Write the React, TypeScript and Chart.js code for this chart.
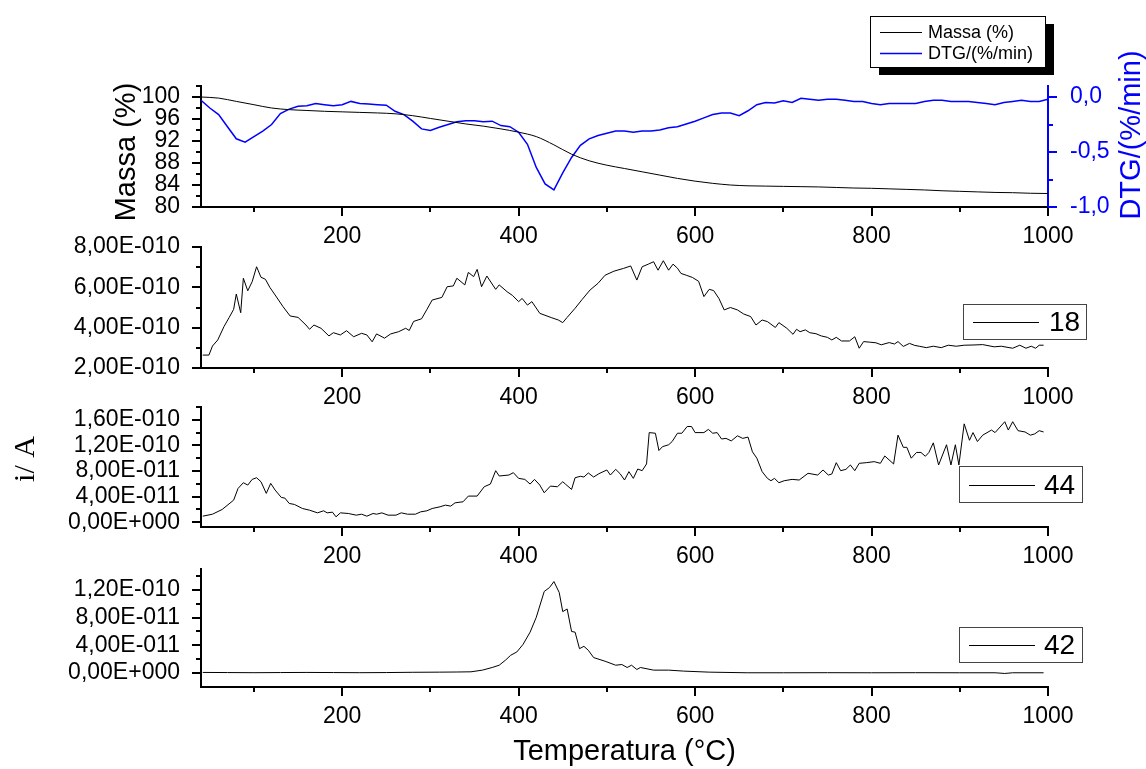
import React, { useEffect, useRef } from "react";
import { Chart, registerables } from "chart.js";

Chart.register(...registerables);

const SANS = "'Liberation Sans', Arial, Helvetica, sans-serif";
const SERIF = "'Liberation Serif', 'Times New Roman', serif";
const BLUE = "#0000ff";
const TICK_FONT = 23;
const TITLE_FONT = 29;

// ---------- shared temperature axis ----------
const tempMin = 40;
const tempMax = 1000;
const tempMajorTicks = [200, 400, 600, 800, 1000];
const tempMinorTicks = [100, 300, 500, 700, 900];

// ---------- panel 1 : TG / DTG ----------
const massaTemp = [40, 60, 80, 100, 120, 140, 160, 180, 200, 220, 240, 260, 280, 300, 320, 340, 360, 380, 400, 420, 440, 460, 480, 500, 520, 540, 560, 580, 600, 620, 640, 660, 680, 700, 720, 740, 760, 780, 800, 820, 840, 860, 880, 900, 920, 940, 960, 980, 1000];
const massaValues = [100.0, 99.8, 99.2, 98.6, 98.0, 97.7, 97.55, 97.4, 97.3, 97.2, 97.1, 96.95, 96.6, 96.1, 95.6, 95.1, 94.7, 94.2, 93.6, 92.8, 91.3, 89.6, 88.4, 87.6, 87.0, 86.4, 85.8, 85.2, 84.7, 84.3, 84.0, 83.85, 83.8, 83.75, 83.7, 83.65, 83.55, 83.45, 83.4, 83.3, 83.2, 83.1, 82.95, 82.85, 82.75, 82.65, 82.6, 82.5, 82.45];

const dtgTemp = [40, 50, 60, 70, 80, 90, 100, 110, 120, 130, 140, 150, 160, 170, 180, 190, 200, 210, 220, 230, 240, 250, 260, 270, 280, 290, 300, 310, 320, 330, 340, 350, 360, 370, 380, 390, 400, 410, 420, 430, 440, 450, 460, 470, 480, 490, 500, 510, 520, 530, 540, 550, 560, 570, 580, 590, 600, 610, 620, 630, 640, 650, 660, 670, 680, 690, 700, 710, 720, 730, 740, 750, 760, 770, 780, 790, 800, 810, 820, 830, 840, 850, 860, 870, 880, 890, 900, 910, 920, 930, 940, 950, 960, 970, 980, 990, 1000];
const dtgValues = [-0.03, -0.10, -0.16, -0.27, -0.38, -0.41, -0.36, -0.31, -0.25, -0.15, -0.11, -0.085, -0.08, -0.06, -0.07, -0.08, -0.07, -0.04, -0.06, -0.064, -0.07, -0.075, -0.13, -0.16, -0.22, -0.29, -0.305, -0.275, -0.25, -0.225, -0.215, -0.215, -0.225, -0.22, -0.26, -0.27, -0.32, -0.43, -0.64, -0.79, -0.845, -0.69, -0.55, -0.44, -0.38, -0.35, -0.33, -0.31, -0.31, -0.32, -0.31, -0.31, -0.30, -0.28, -0.27, -0.245, -0.22, -0.19, -0.16, -0.145, -0.145, -0.17, -0.125, -0.07, -0.05, -0.055, -0.035, -0.05, -0.012, -0.02, -0.03, -0.02, -0.02, -0.03, -0.04, -0.04, -0.06, -0.07, -0.06, -0.06, -0.06, -0.06, -0.04, -0.03, -0.03, -0.04, -0.04, -0.04, -0.05, -0.06, -0.07, -0.05, -0.04, -0.03, -0.04, -0.04, -0.02];

const massaTicks = [80, 84, 88, 92, 96, 100];
const massaTickLabels = ["80", "84", "88", "92", "96", "100"];
const massaMinorTicks = [82, 86, 90, 94, 98, 102];
const dtgTicks = [-1, -0.5, 0];
const dtgTickLabels = ["-1,0", "-0,5", "0,0"];
const dtgMinorTicks = [-0.75, -0.25];

// ---------- panel 2 : m/z 18 (values in 1E-10 A) ----------
const ms18Temp = [42, 49, 53, 59, 66, 72, 77, 80, 85, 88, 93, 98, 103, 108, 113, 118, 124, 133, 141, 150, 159, 163, 168, 176, 185, 190, 198, 205, 213, 222, 228, 234, 239, 248, 255, 264, 272, 276, 281, 290, 296, 302, 313, 319, 326, 330, 339, 343, 349, 353, 358, 364, 374, 378, 387, 393, 400, 404, 410, 415, 424, 437, 445, 450, 455, 464, 472, 481, 490, 498, 508, 519, 527, 534, 540, 547, 553, 558, 564, 570, 575, 580, 584, 590, 597, 604, 610, 616, 621, 627, 633, 640, 648, 655, 663, 669, 676, 682, 691, 695, 704, 711, 715, 719, 725, 730, 737, 743, 750, 755, 760, 766, 775, 781, 786, 791, 798, 805, 811, 820, 826, 830, 836, 843, 849, 854, 862, 870, 879, 887, 896, 905, 915, 926, 939, 947, 960, 968, 975, 981, 986, 990, 995];
const ms18Values = [2.64, 2.64, 3.09, 3.39, 4.05, 4.51, 4.91, 5.67, 4.74, 6.45, 5.83, 6.28, 7.02, 6.50, 6.40, 6.0, 5.62, 5.04, 4.58, 4.51, 4.13, 3.92, 4.13, 3.97, 3.59, 3.75, 3.64, 3.85, 3.55, 3.72, 3.64, 3.30, 3.69, 3.48, 3.69, 3.80, 3.97, 3.86, 4.31, 4.44, 4.9, 5.37, 5.50, 6.03, 6.07, 6.45, 6.12, 6.74, 6.53, 6.89, 6.03, 6.56, 5.90, 6.12, 5.78, 5.6, 5.29, 5.45, 5.12, 5.29, 4.71, 4.50, 4.38, 4.25, 4.51, 4.96, 5.4, 5.87, 6.2, 6.6, 6.8, 6.94, 7.06, 6.36, 7.02, 7.15, 7.27, 6.85, 7.32, 6.85, 7.15, 6.95, 6.69, 6.6, 6.49, 6.3, 5.54, 5.90, 5.84, 5.45, 4.88, 5.0, 4.88, 4.68, 4.55, 4.13, 4.38, 4.30, 4.01, 4.25, 3.97, 3.67, 3.92, 3.80, 3.89, 3.75, 3.7, 3.59, 3.52, 3.39, 3.52, 3.34, 3.34, 3.55, 2.98, 3.31, 3.28, 3.25, 3.15, 3.26, 3.19, 3.31, 3.07, 3.22, 3.12, 3.08, 3.01, 3.08, 3.01, 3.13, 3.08, 3.13, 3.14, 3.16, 3.05, 3.08, 2.98, 3.13, 2.98, 3.08, 2.98, 3.13, 3.13];
const ms18Unit = 1e-10;
const ms18Ticks = [2e-10, 4e-10, 6e-10, 8e-10];
const ms18TickLabels = ["2,00E-010", "4,00E-010", "6,00E-010", "8,00E-010"];
const ms18MinorTicks = [3e-10, 5e-10, 7e-10];

// ---------- panel 3 : m/z 44 (values in 1E-11 A) ----------
const ms44Temp = [42, 53, 64, 77, 82, 88, 93, 98, 103, 108, 114, 119, 124, 131, 135, 140, 146, 155, 163, 172, 179, 183, 189, 193, 198, 207, 216, 222, 228, 235, 239, 245, 252, 261, 267, 274, 283, 289, 296, 302, 311, 317, 323, 328, 337, 343, 353, 361, 368, 374, 378, 389, 394, 400, 407, 413, 418, 424, 429, 436, 444, 450, 453, 460, 464, 470, 474, 479, 485, 491, 500, 504, 510, 515, 520, 525, 530, 535, 540, 545, 548, 555, 559, 563, 570, 574, 580, 585, 591, 596, 600, 610, 615, 620, 625, 630, 635, 641, 648, 654, 660, 665, 670, 676, 682, 686, 690, 695, 701, 710, 718, 728, 739, 745, 751, 755, 760, 765, 771, 776, 781, 786, 794, 803, 810, 815, 825, 830, 836, 840, 845, 851, 856, 861, 865, 870, 876, 885, 890, 895, 899, 905, 911, 915, 920, 926, 936, 940, 951, 955, 960, 966, 974, 980, 985, 990, 995];
const ms44Values = [0.94, 1.25, 1.99, 3.45, 5.28, 6.17, 5.80, 6.69, 6.95, 6.32, 4.50, 6.07, 5.02, 3.87, 3.77, 2.93, 2.77, 2.14, 1.88, 1.46, 1.78, 1.46, 1.57, 0.84, 1.46, 1.36, 1.10, 1.25, 0.94, 1.36, 1.25, 1.46, 1.10, 1.10, 1.46, 1.25, 1.25, 1.62, 1.78, 2.14, 2.41, 2.67, 2.51, 3.03, 3.19, 4.08, 4.08, 5.54, 5.96, 8.05, 7.22, 7.37, 7.74, 6.85, 6.69, 5.96, 6.69, 5.80, 4.6, 5.64, 5.54, 6.32, 5.96, 5.12, 6.95, 7.17, 7.06, 7.69, 7.06, 7.58, 8.16, 7.37, 8.26, 7.58, 6.59, 7.90, 6.85, 8.31, 8.05, 9.10, 14.0, 13.9, 11.2, 11.8, 12.1, 12.6, 13.9, 13.9, 14.95, 14.95, 14.0, 14.0, 14.5, 13.9, 14.0, 13.0, 13.1, 12.7, 13.5, 13.1, 13.3, 11.0, 10.0, 7.9, 6.85, 6.48, 6.85, 6.17, 6.48, 6.69, 6.59, 7.64, 7.37, 8.16, 7.37, 7.53, 9.3, 8.05, 8.26, 8.94, 8.05, 9.2, 9.3, 9.46, 9.2, 10.35, 9.1, 13.6, 11.7, 11.7, 10.0, 10.9, 10.9, 10.3, 10.9, 12.4, 8.94, 12.1, 8.94, 12.1, 8.94, 15.37, 12.8, 14.0, 12.6, 13.6, 14.4, 14.0, 15.7, 14.4, 15.7, 14.3, 14.1, 13.6, 13.8, 14.3, 14.1];
const ms44Unit = 1e-11;
const ms44Ticks = [0, 4e-11, 8e-11, 1.2e-10, 1.6e-10];
const ms44TickLabels = ["0,00E+000", "4,00E-011", "8,00E-011", "1,20E-010", "1,60E-010"];
const ms44MinorTicks = [2e-11, 6e-11, 1e-10, 1.4e-10, 1.8e-10];

// ---------- panel 4 : m/z 42 (values in 1E-11 A) ----------
const ms42Temp = [42, 70, 100, 130, 160, 190, 220, 250, 280, 310, 330, 346, 359, 370, 378, 385, 391, 398, 405, 413, 420, 429, 435, 440, 446, 450, 455, 460, 464, 469, 474, 479, 485, 498, 510, 517, 523, 528, 534, 538, 553, 570, 587, 616, 659, 700, 750, 800, 850, 900, 940, 951, 960, 995];
const ms42Values = [0.10, 0.08, 0.06, 0.08, 0.10, 0.08, 0.06, 0.08, 0.12, 0.14, 0.16, 0.19, 0.43, 0.81, 1.14, 1.86, 2.57, 3.05, 4.14, 5.9, 8.04, 11.76, 12.33, 13.19, 11.62, 8.86, 9.24, 6.0, 5.9, 3.52, 3.86, 3.29, 2.24, 1.71, 1.14, 1.24, 0.81, 1.14, 0.52, 0.81, 0.43, 0.43, 0.29, 0.14, 0.05, 0.05, 0.06, 0.05, 0.06, 0.05, 0.05, -0.05, 0.05, 0.05];
const ms42Unit = 1e-11;
const ms42Ticks = [0, 4e-11, 8e-11, 1.2e-10];
const ms42TickLabels = ["0,00E+000", "4,00E-011", "8,00E-011", "1,20E-010"];
const ms42MinorTicks = [2e-11, 6e-11, 1e-10, 1.4e-10];

// ---------- helpers ----------
function toPoints(xs: number[], ys: number[], unit = 1) {
  return xs.map((x, i) => ({ x, y: ys[i] * unit }));
}

function tempScale(height: number, withTitle: boolean) {
  return {
    type: "linear",
    position: "bottom",
    min: tempMin,
    max: tempMax,
    afterBuildTicks: (s: any) => {
      s.ticks = tempMajorTicks.map((v) => ({ value: v }));
    },
    afterFit: (s: any) => {
      s.height = height;
      s.paddingLeft = 0;
      s.paddingRight = 0;
    },
    grid: { display: false, drawTicks: false },
    border: { display: true, color: "#000", width: 2 },
    ticks: {
      color: "#000",
      padding: 16,
      maxRotation: 0,
      autoSkip: false,
      font: { family: SANS, size: TICK_FONT },
      callback: (v: any) => String(v),
    },
    title: {
      display: withTitle,
      text: "Temperatura (°C)",
      color: "#000",
      font: { family: SANS, size: TITLE_FONT },
      padding: 0,
    },
  };
}

function valueScale(position: string, min: number, max: number, ticks: number[], labels: string[], width: number, color: string, padding: number) {
  return {
    type: "linear",
    position,
    min,
    max,
    afterBuildTicks: (s: any) => {
      s.ticks = ticks.map((v) => ({ value: v }));
    },
    afterFit: (s: any) => {
      s.width = width;
      s.paddingTop = 0;
      s.paddingBottom = 0;
    },
    grid: { display: false, drawTicks: false },
    border: { display: true, color, width: 2 },
    ticks: {
      color,
      padding,
      autoSkip: false,
      font: { family: SANS, size: TICK_FONT },
      callback: (_v: any, i: number) => labels[i],
    },
  };
}

function axisTicksPlugin(specs: any[]) {
  return {
    id: "axisTicks",
    afterDraw(chart: any) {
      const { ctx, chartArea } = chart;
      ctx.save();
      ctx.lineWidth = 2;
      for (const sp of specs) {
        const scale = chart.scales[sp.axis];
        ctx.strokeStyle = sp.color;
        const mark = (v: number, len: number) => {
          const p = Math.round(scale.getPixelForValue(v));
          ctx.beginPath();
          if (sp.side === "bottom") {
            ctx.moveTo(p, chartArea.bottom);
            ctx.lineTo(p, chartArea.bottom + len);
          } else if (sp.side === "left") {
            ctx.moveTo(chartArea.left, p);
            ctx.lineTo(chartArea.left - len, p);
          } else {
            ctx.moveTo(chartArea.right, p);
            ctx.lineTo(chartArea.right + len, p);
          }
          ctx.stroke();
        };
        sp.major.forEach((v: number) => mark(v, 9));
        sp.minor.forEach((v: number) => mark(v, 5));
      }
      ctx.restore();
    },
  };
}

function textPlugin(items: any[], offsetY: number) {
  return {
    id: "extraText",
    afterDraw(chart: any) {
      const ctx = chart.ctx;
      for (const it of items) {
        ctx.save();
        ctx.translate(it.x, it.y - offsetY);
        if (it.rotate) ctx.rotate(it.rotate);
        ctx.font = `${it.size}px ${it.family}`;
        ctx.fillStyle = it.color;
        ctx.textAlign = "center";
        ctx.textBaseline = "middle";
        ctx.fillText(it.text, 0, 0);
        ctx.restore();
      }
    },
  };
}

function legendPlugin(spec: any, offsetY: number) {
  return {
    id: "boxLegend",
    afterDraw(chart: any) {
      const ctx = chart.ctx;
      const y0 = spec.y - offsetY;
      ctx.save();
      if (spec.shadow) {
        ctx.fillStyle = "#000";
        ctx.fillRect(spec.x + 9, y0 + 8, spec.w, spec.h);
      }
      ctx.fillStyle = "#fff";
      ctx.fillRect(spec.x, y0, spec.w, spec.h);
      ctx.strokeStyle = spec.border;
      ctx.lineWidth = 1;
      ctx.strokeRect(spec.x + 0.5, y0 + 0.5, spec.w, spec.h);
      ctx.font = `${spec.size}px ${SANS}`;
      ctx.textBaseline = "middle";
      ctx.textAlign = "left";
      for (const r of spec.rows) {
        const ds = chart.data.datasets[r.dataset];
        const yy = Math.round(r.y - offsetY) + 0.5;
        ctx.strokeStyle = r.color;
        ctx.lineWidth = r.width;
        ctx.beginPath();
        ctx.moveTo(spec.lineX1, yy);
        ctx.lineTo(spec.lineX2, yy);
        ctx.stroke();
        ctx.fillStyle = "#000";
        ctx.fillText(ds.label, spec.textX, r.y - offsetY + 1);
      }
      ctx.restore();
    },
  };
}

const baseOptions = {
  responsive: false,
  animation: false,
  events: [],
  plugins: { legend: { display: false }, tooltip: { enabled: false } },
};

function msChart(canvas: HTMLCanvasElement, p: any) {
  return new Chart(canvas, {
    type: "line",
    data: {
      datasets: [
        {
          label: p.label,
          data: toPoints(p.temp, p.values, p.unit),
          borderColor: "#000",
          borderWidth: 1,
          pointRadius: 0,
          tension: 0,
        },
      ],
    },
    options: {
      ...baseOptions,
      layout: { padding: { top: p.padTop, left: 0, right: 98, bottom: 0 } },
      scales: {
        x: tempScale(p.xHeight, p.xTitle),
        y: valueScale("left", p.min, p.max, p.ticks, p.tickLabels, 201, "#000", 21),
      },
    } as any,
    plugins: [
      axisTicksPlugin([
        { axis: "x", side: "bottom", major: tempMajorTicks, minor: tempMinorTicks, color: "#000" },
        { axis: "y", side: "left", major: p.ticks, minor: p.minor, color: "#000" },
      ]),
      textPlugin(p.texts || [], p.top),
      legendPlugin(p.legend, p.top),
    ],
  } as any);
}

export default function App() {
  const r1 = useRef<HTMLCanvasElement>(null);
  const r2 = useRef<HTMLCanvasElement>(null);
  const r3 = useRef<HTMLCanvasElement>(null);
  const r4 = useRef<HTMLCanvasElement>(null);

  useEffect(() => {
    const charts: Chart[] = [];

    charts.push(
      new Chart(r1.current as HTMLCanvasElement, {
        type: "line",
        data: {
          datasets: [
            {
              label: "Massa (%)",
              data: toPoints(massaTemp, massaValues),
              yAxisID: "y",
              borderColor: "#000",
              borderWidth: 1,
              pointRadius: 0,
              cubicInterpolationMode: "monotone",
            },
            {
              label: "DTG/(%/min)",
              data: toPoints(dtgTemp, dtgValues),
              yAxisID: "y1",
              borderColor: BLUE,
              borderWidth: 1.5,
              pointRadius: 0,
              tension: 0,
            },
          ],
        },
        options: {
          ...baseOptions,
          layout: { padding: { top: 86, left: 0, right: 0, bottom: 0 } },
          scales: {
            x: tempScale(43, false),
            y: valueScale("left", 80, 102, massaTicks, massaTickLabels, 201, "#000", 21),
            y1: valueScale("right", -1, 0.1, dtgTicks, dtgTickLabels, 98, BLUE, 22),
          },
        } as any,
        plugins: [
          axisTicksPlugin([
            { axis: "x", side: "bottom", major: tempMajorTicks, minor: tempMinorTicks, color: "#000" },
            { axis: "y", side: "left", major: massaTicks, minor: massaMinorTicks, color: "#000" },
            { axis: "y1", side: "right", major: dtgTicks, minor: dtgMinorTicks, color: BLUE },
          ]),
          textPlugin(
            [
              { text: "Massa (%)", x: 127, y: 152, size: TITLE_FONT, family: SANS, color: "#000", rotate: -Math.PI / 2 },
              { text: "DTG/(%/min)", x: 1132, y: 135, size: TITLE_FONT, family: SANS, color: BLUE, rotate: -Math.PI / 2 },
            ],
            0
          ),
          legendPlugin(
            {
              x: 870, y: 16, w: 175, h: 51, shadow: true, border: "#000",
              lineX1: 880, lineX2: 922, textX: 928, size: 18,
              rows: [
                { dataset: 0, y: 32, color: "#000", width: 1 },
                { dataset: 1, y: 53, color: BLUE, width: 1.5 },
              ],
            },
            0
          ),
        ],
      } as any)
    );

    charts.push(
      msChart(r2.current as HTMLCanvasElement, {
        label: "18", temp: ms18Temp, values: ms18Values, unit: ms18Unit,
        top: 228, padTop: 19, xHeight: 42, xTitle: false,
        min: 2e-10, max: 8e-10, ticks: ms18Ticks, tickLabels: ms18TickLabels, minor: ms18MinorTicks,
        legend: { x: 963, y: 304, w: 123, h: 35, shadow: false, border: "#444", lineX1: 973, lineX2: 1039, textX: 1049, size: 28, rows: [{ dataset: 0, y: 322, color: "#000", width: 1 }] },
      })
    );

    charts.push(
      msChart(r3.current as HTMLCanvasElement, {
        label: "44", temp: ms44Temp, values: ms44Values, unit: ms44Unit,
        top: 392, padTop: 15, xHeight: 45, xTitle: false,
        min: -7.5e-12, max: 1.8e-10, ticks: ms44Ticks, tickLabels: ms44TickLabels, minor: ms44MinorTicks,
        texts: [{ text: "i/ A", x: 26, y: 459, size: 30, family: SERIF, color: "#000", rotate: -Math.PI / 2 }],
        legend: { x: 959, y: 466, w: 123, h: 36, shadow: false, border: "#444", lineX1: 969, lineX2: 1035, textX: 1044, size: 28, rows: [{ dataset: 0, y: 485, color: "#000", width: 1 }] },
      })
    );

    charts.push(
      msChart(r4.current as HTMLCanvasElement, {
        label: "42", temp: ms42Temp, values: ms42Values, unit: ms42Unit,
        top: 552, padTop: 17, xHeight: 82, xTitle: true,
        min: -2e-11, max: 1.5e-10, ticks: ms42Ticks, tickLabels: ms42TickLabels, minor: ms42MinorTicks,
        legend: { x: 959, y: 627, w: 123, h: 35, shadow: false, border: "#444", lineX1: 969, lineX2: 1035, textX: 1044, size: 28, rows: [{ dataset: 0, y: 645, color: "#000", width: 1 }] },
      })
    );

    return () => charts.forEach((c) => c.destroy());
  }, []);

  const cs = (top: number): React.CSSProperties => ({ position: "absolute", left: 0, top });

  return (
    <div style={{ position: "absolute", left: 0, top: 0, width: 1146, height: 769, background: "#fff", overflow: "hidden" }}>
      <canvas ref={r1} width={1146} height={250} style={cs(0)} />
      <canvas ref={r2} width={1146} height={182} style={cs(228)} />
      <canvas ref={r3} width={1146} height={180} style={cs(392)} />
      <canvas ref={r4} width={1146} height={217} style={cs(552)} />
    </div>
  );
}
